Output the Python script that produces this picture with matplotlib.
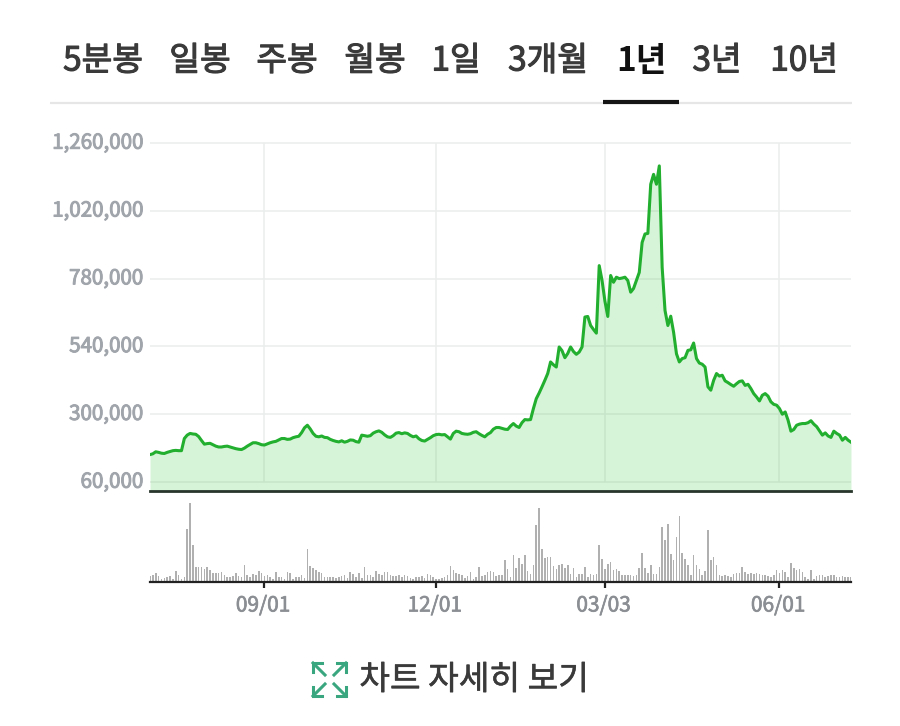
import numpy as np
import matplotlib
matplotlib.use("Agg")
import matplotlib.pyplot as plt
import matplotlib.patheffects as pe
from matplotlib.transforms import ScaledTranslation

plt.rcParams["font.family"] = ["Noto Sans CJK KR", "DejaVu Sans"]

tabs = ["5분봉", "일봉", "주봉", "월봉", "1일", "3개월", "1년", "3년", "10년"]
tab_x = [103, 200, 287, 375, 456, 548, 641, 717, 804]

y_ticks = [60000, 300000, 540000, 780000, 1020000, 1260000]
date_ticks = [40, 100, 159, 220]
date_labels = ["09/01", "12/01", "03/03", "06/01"]

# closing price, thousands, one per trading day
price = [
    157, 160, 167, 165, 162, 161, 165, 168, 171, 172, 171, 171,
    214, 226, 232, 230, 229, 221, 207, 194, 196, 197, 192, 187, 184, 184, 186, 187,
    184, 181, 178, 176, 175, 180, 187, 193, 199, 199, 196, 192, 191, 195, 199, 202,
    204, 209, 214, 214, 211, 212, 217, 220, 222, 235, 252, 261, 248, 232, 222, 220,
    223, 218, 217, 211, 207, 204, 202, 206, 201, 204, 209, 208, 203, 201, 226, 224,
    222, 224, 233, 238, 241, 236, 227, 220, 218, 224, 233, 235, 231, 234, 232, 225,
    220, 223, 213, 207, 205, 211, 217, 224, 228, 229, 227, 228, 220, 212, 232, 240,
    238, 232, 230, 229, 231, 236, 238, 231, 225, 220, 229, 235, 247, 253,
    253, 250, 247, 246, 258, 267, 258, 253, 270, 281, 280, 281, 320, 355, 375, 397,
    420, 444, 485, 475, 467, 538, 525, 500, 515, 538, 522, 512, 520, 538, 644, 646,
    614, 600, 587, 826, 773, 700, 646, 791, 767, 785, 780, 782, 785, 773, 732, 745,
    773, 802, 908, 938, 940, 1114, 1149, 1114, 1179, 820, 667, 614, 647, 590, 514, 485,
    497, 500, 526, 528, 552, 497, 481, 477, 467, 397, 385, 420, 444, 435, 438, 418,
    412, 405, 399, 408, 416, 418, 402, 406, 391, 373, 361, 347, 367, 373, 364, 344,
    335, 332, 320, 300, 308, 279, 240, 246, 261, 265, 267, 267, 270, 277, 265, 256,
    241, 226, 234, 223, 218, 240, 232, 226, 208, 218, 208, 201,
]

volume = [
    18, 22, 26, 18, 10, 11, 14, 18, 8, 33, 22, 10,
    14, 158, 238, 110, 45, 44, 45, 38, 45, 35, 28, 26, 28, 30, 20, 15,
    16, 17, 28, 18, 14, 52, 20, 14, 25, 22, 33, 28, 18, 22, 14, 10,
    30, 16, 16, 10, 30, 26, 10, 14, 14, 22, 12, 100, 48, 42, 35, 30,
    28, 15, 14, 15, 14, 12, 14, 18, 22, 12, 30, 25, 15, 28, 12, 45,
    20, 20, 14, 32, 25, 20, 30, 30, 22, 18, 18, 20, 16, 20, 18, 12,
    8, 16, 14, 18, 12, 24, 22, 15, 10, 8, 12, 14, 22, 48, 35, 28,
    24, 20, 12, 18, 30, 8, 14, 45, 18, 22, 30, 32, 30, 18,
    20, 22, 65, 40, 15, 80, 42, 72, 55, 80, 32, 25, 50, 172, 223, 98,
    72, 75, 76, 48, 38, 50, 55, 42, 50, 25, 42, 15, 25, 25, 46, 15,
    25, 22, 25, 112, 68, 40, 55, 60, 35, 38, 32, 22, 20, 20, 20, 18,
    22, 42, 88, 42, 28, 50, 25, 25, 45, 165, 125, 175, 85, 65, 135, 197,
    88, 68, 50, 22, 80, 52, 38, 22, 32, 155, 65, 75, 52, 20, 18, 22,
    18, 16, 25, 26, 28, 46, 30, 25, 28, 25, 28, 25, 22, 20, 18, 14,
    22, 35, 28, 35, 30, 15, 58, 42, 35, 38, 30, 15, 10, 35, 10, 18,
    20, 20, 16, 18, 22, 22, 14, 14, 18, 16, 14, 14,
]

W, H = 900, 726
fig = plt.figure(figsize=(9, 7.26), dpi=100)


def px_axes(left, top, right, bottom):
    return fig.add_axes([left / W, 1 - bottom / H, (right - left) / W, (bottom - top) / H])


def thicken(text, color, width=0.6):
    text.set_path_effects([pe.withStroke(linewidth=width, foreground=color)])


# price panel
ax = px_axes(150, 143, 851, 491)
days = np.arange(len(price))
vals = np.array(price) * 1000
ymin = 60000 - 9 * 240000 / 68
ax.set_xlim(0, len(price) - 1)
ax.set_ylim(ymin, 1260000)
ax.hlines(y_ticks, 0, len(price) - 1, color="#eceded", lw=1.2, zorder=1, clip_on=False)
ax.vlines(date_ticks, 60000, 1260000, color="#eceded", lw=1.2, zorder=1)
ax.fill_between(days, vals, ymin, color="#35c83f", alpha=0.2, lw=0, zorder=2)
ax.plot(days, vals, color="#22ae2e", lw=2.2, zorder=3, solid_joinstyle="round")
ax.set_yticks(y_ticks)
ax.set_yticklabels([f"{v:,}" for v in y_ticks], fontsize=14.8, color="#a0a4ab")
ax.tick_params(axis="y", length=0, pad=5)
ax.set_xticks([])
for label in ax.get_yticklabels():
    label.set_transform(label.get_transform() + ScaledTranslation(0, 2 / 72, fig.dpi_scale_trans))
    thicken(label, "#a0a4ab", 0.7)
for s in ["top", "left", "right"]:
    ax.spines[s].set_visible(False)
ax.spines["bottom"].set_color("#27352b")
ax.spines["bottom"].set_linewidth(2.0)

# volume panel
vx = px_axes(150, 502, 851, 582)
vx.bar(np.arange(len(volume)), volume, width=0.55, color="#b0b0b0", lw=0)
vx.set_xlim(0, len(price) - 1)
vx.set_ylim(0, 240)
vx.set_yticks([])
vx.set_xticks(date_ticks)
vx.set_xticklabels(date_labels, fontsize=15, color="#8b8f94")
vx.tick_params(axis="x", length=4, width=1.6, color="#222222", pad=5)
for label in vx.get_xticklabels():
    label.set_transform(label.get_transform() + ScaledTranslation(-1 / 72, 0, fig.dpi_scale_trans))
    thicken(label, "#8b8f94", 0.5)
for s in ["top", "left", "right"]:
    vx.spines[s].set_visible(False)
vx.spines["bottom"].set_color("#222222")
vx.spines["bottom"].set_linewidth(1.6)

# tabs, underline and footer, in pixel coordinates
top = fig.add_axes([0, 0, 1, 1], facecolor="none")
top.set_xlim(0, W)
top.set_ylim(H, 0)
top.axis("off")
for name, x in zip(tabs, tab_x):
    on = name == "1년"
    color = "#111111" if on else "#3a3a3a"
    t = top.text(x, 61, name, ha="center", va="center", fontsize=24, color=color,
                 fontweight="bold" if on else "normal")
    if not on:
        thicken(t, color, 0.8)
top.plot([50, 852], [102.5, 102.5], color="#e6e6e6", lw=1.6, solid_capstyle="butt")
top.plot([603, 679], [102, 102], color="#151515", lw=3, solid_capstyle="butt")

green = "#3aa67f"
for cx, cy, sx, sy in [(313, 663, 1, 1), (346, 663, -1, 1), (313, 696, 1, -1), (346, 696, -1, -1)]:
    top.plot([cx, cx, cx + sx * 9], [cy + sy * 9, cy, cy], color=green, lw=2.2, solid_joinstyle="miter")
    top.plot([cx, cx + sx * 12], [cy, cy + sy * 12], color=green, lw=2.2)
t = top.text(474, 680, "차트 자세히 보기", ha="center", va="center", fontsize=24, color="#3a3a3a")
thicken(t, "#3a3a3a", 0.4)

fig.savefig("out.png", dpi=100)
